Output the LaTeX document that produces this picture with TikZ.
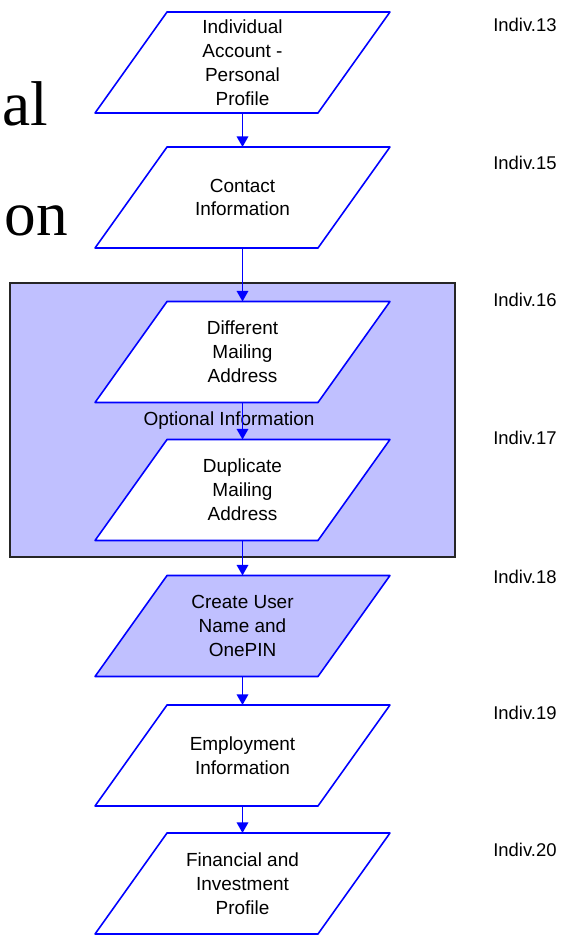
\documentclass[tikz,border=0pt]{standalone}
\usepackage{fontspec}
\setmainfont{Liberation Sans}
\newfontfamily\slideserif{Liberation Serif}
\usetikzlibrary{arrows.meta,backgrounds}
\definecolor{flowblue}{RGB}{0,0,255}
\definecolor{optfill}{RGB}{192,192,255}

\begin{document}
\begin{tikzpicture}[x=0.02cm, y=-0.02cm, >={Triangle[length=6pt,width=6.5pt]},
  io/.style={minimum width=5.9cm, minimum height=2.02cm, inner sep=0pt, outer sep=0pt,
    align=center, font=\fontsize{10.8}{13.6}\selectfont},
  ioshape/.style={draw=flowblue, line width=0.9pt, line join=round},
  flow/.style={->, flowblue, line width=1pt},
  tag/.style={anchor=west, inner sep=0pt, font=\fontsize{10.5}{12}\selectfont}]
  \useasboundingbox (0,0) rectangle (569,937);

  % Slide text behind the chart
  \node[anchor=base east, inner sep=0pt, font=\slideserif\fontsize{36}{40}\selectfont] (frag1) at (48,125) {al};
  \node[anchor=base east, inner sep=0pt, font=\slideserif\fontsize{36}{40}\selectfont] (frag2) at (68,235) {on};

  % Optional group label
  \node[font=\fontsize{10.8}{13.6}\selectfont, inner sep=0pt] (optlab) at (229,421) {Optional Information};

  % Steps
  \node[io] (prof) at (242.5,62.5) {Individual\\Account -\\Personal\\Profile};
  \node[io] (cont) at (242.5,197.5) {Contact\\Information};
  \node[io] (diff) at (242.5,352) {Different\\Mailing\\Address};
  \node[io] (dupl) at (242.5,490) {Duplicate\\Mailing\\Address};
  \node[io] (user) at (242.5,626) {Create User\\Name and\\OnePIN};
  \node[io] (empl) at (242.5,755.5) {Employment\\Information};
  \node[io] (fin) at (242.5,883.5) {Financial and\\Investment\\Profile};

  \begin{scope}[on background layer]
    % Optional group box
    \filldraw[draw=gray!30!black, line width=1pt, fill=optfill] (10,283) rectangle (455,557);
    % Parallelograms
    \foreach \n/\c in {prof/white, cont/white, diff/white, dupl/white, user/optfill, empl/white, fin/white}{
      \filldraw[ioshape, fill=\c] (\n.south west) -- ([xshift=1.44cm]\n.north west)
        -- (\n.north east) -- ([xshift=-1.44cm]\n.south east) -- cycle;
    }
  \end{scope}

  % Arrows
  \foreach \a/\b in {prof/cont, cont/diff, diff/dupl, dupl/user, user/empl, empl/fin}{
    \draw[flow] (\a.south) -- (\b.north);
  }

  % Screen ids
  \foreach \y/\n in {25/13, 163/15, 300/16, 438/17, 577/18, 713/19, 850/20}{
    \node[tag] (tag\n) at (493,\y) {Indiv.\n};
  }
\end{tikzpicture}
\end{document}
